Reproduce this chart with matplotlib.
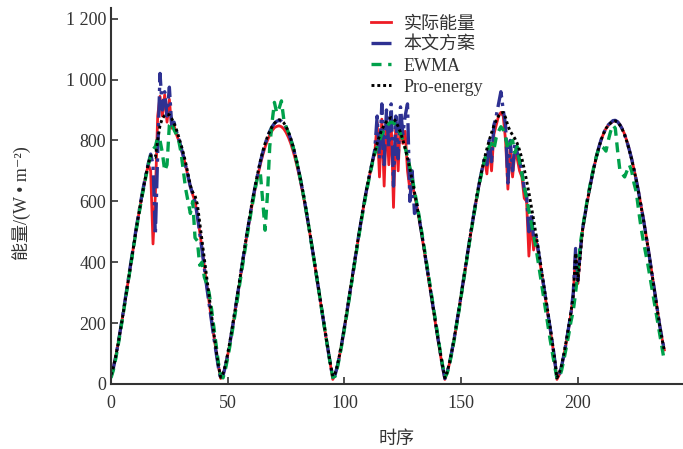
import numpy as np
import matplotlib
matplotlib.use('Agg')
import matplotlib.pyplot as plt

plt.rcParams['font.family'] = ['Liberation Serif', 'Noto Sans CJK SC', 'DejaVu Serif']

# 实际能量
actual = [
    30, 55, 90, 130, 175, 222, 270, 320, 370, 420, 470, 518, 563, 607, 648, 688, 720, 700, 460, 620, 880, 945, 880, 950,
    860, 935, 840, 850, 820, 800, 775, 748, 716, 682, 648, 622, 600, 555, 500, 445, 385, 325, 270, 215, 160, 110, 60, 18,
    30, 58, 95, 136, 182, 230, 280, 330, 380, 430, 478, 525, 570, 612, 651, 688, 722, 752, 778, 800, 818, 832, 842, 846,
    848, 845, 838, 826, 810, 790, 765, 737, 705, 670, 632, 592, 548, 502, 455, 405, 355, 305, 255, 205, 157, 110, 63, 15,
    32, 60, 97, 138, 184, 232, 282, 332, 382, 432, 481, 528, 574, 617, 657, 694, 729, 760, 860, 680, 870, 650, 880, 720,
    870, 580, 860, 700, 880, 790, 830, 700, 640, 660, 620, 585, 540, 494, 446, 396, 346, 296, 246, 196, 148, 100, 55, 15,
    38, 68, 105, 147, 193, 241, 291, 341, 391, 441, 490, 537, 583, 627, 667, 705, 740, 690, 780, 700, 820, 850, 880, 892,
    880, 800, 640, 780, 680, 760, 740, 700, 680, 610, 600, 420, 540, 440, 480, 430, 385, 335, 285, 235, 185, 135, 80, 15,
    30, 58, 95, 136, 182, 230, 290, 440, 330, 430, 505, 552, 598, 640, 680, 716, 749, 778, 803, 823, 839, 850, 857, 862,
    865, 861, 852, 838, 820, 797, 770, 740, 706, 670, 630, 588, 544, 498, 450, 400, 348, 296, 244, 194, 150, 112,
]

# 本文方案
proposed = [
    25, 52, 88, 130, 176, 224, 273, 323, 373, 423, 473, 521, 566, 610, 651, 690, 725, 755, 720, 490, 760, 1020, 900, 960,
    880, 975, 850, 860, 830, 805, 778, 748, 716, 682, 648, 625, 598, 552, 496, 440, 380, 320, 265, 210, 155, 105, 55, 15,
    28, 58, 96, 138, 184, 233, 283, 333, 383, 433, 482, 529, 575, 618, 658, 695, 730, 761, 788, 811, 830, 845, 856, 863,
    866, 863, 855, 842, 825, 804, 778, 748, 714, 678, 638, 596, 551, 504, 456, 406, 356, 306, 256, 206, 158, 110, 63, 22,
    30, 60, 98, 140, 186, 234, 284, 334, 384, 434, 483, 530, 576, 619, 659, 696, 731, 770, 880, 740, 920, 720, 900, 780,
    920, 650, 880, 740, 910, 820, 880, 920, 600, 700, 560, 590, 545, 498, 450, 400, 350, 300, 250, 200, 152, 104, 58, 18,
    40, 70, 108, 150, 196, 244, 294, 344, 394, 444, 493, 540, 586, 630, 670, 708, 745, 720, 800, 730, 850, 880, 920, 960,
    900, 850, 660, 800, 700, 790, 760, 730, 700, 640, 620, 500, 560, 480, 490, 440, 392, 342, 292, 242, 190, 138, 82, 18,
    28, 58, 96, 138, 184, 232, 300, 445, 340, 440, 510, 556, 601, 642, 681, 717, 750, 779, 804, 824, 840, 851, 858, 865,
    866, 861, 851, 837, 819, 796, 769, 739, 705, 669, 629, 587, 543, 497, 449, 399, 347, 295, 243, 193, 150, 112,
]

# EWMA
ewma = [
    20, 45, 82, 124, 170, 218, 267, 317, 367, 417, 466, 514, 559, 603, 644, 683, 720, 750, 770, 780, 810, 800, 760, 700,
    720, 850, 860, 835, 820, 800, 760, 700, 640, 600, 560, 600, 480, 470, 390, 400, 350, 330, 300, 250, 190, 130, 70, 25,
    20, 48, 86, 128, 174, 222, 272, 322, 372, 422, 471, 519, 565, 609, 650, 689, 690, 600, 505, 620, 780, 860, 925, 890,
    905, 930, 870, 845, 826, 804, 778, 748, 714, 678, 638, 596, 551, 504, 456, 406, 356, 306, 256, 206, 158, 110, 63, 22,
    25, 55, 93, 135, 181, 229, 279, 329, 379, 429, 478, 525, 571, 614, 654, 691, 726, 756, 780, 800, 820, 835, 845, 855,
    860, 858, 850, 838, 822, 802, 776, 746, 712, 676, 636, 594, 550, 504, 456, 406, 356, 306, 256, 206, 156, 108, 62, 22,
    35, 65, 103, 145, 191, 239, 289, 339, 389, 439, 488, 535, 581, 625, 665, 702, 736, 760, 780, 790, 770, 810, 830, 845,
    835, 810, 770, 790, 800, 760, 780, 730, 690, 650, 610, 570, 530, 490, 448, 400, 350, 300, 250, 200, 150, 105, 60, 20,
    20, 45, 80, 120, 160, 205, 240, 300, 370, 460, 510, 560, 605, 645, 685, 720, 750, 775, 780, 775, 765, 800, 830, 850,
    840, 765, 700, 690, 680, 700, 720, 700, 660, 630, 570, 515, 470, 430, 390, 345, 300, 255, 210, 165, 120, 75,
]

# Pro-energy
pro_energy = [
    30, 55, 90, 130, 175, 222, 270, 320, 370, 420, 470, 518, 563, 607, 648, 688, 724, 750, 748, 745, 800, 850, 872, 882,
    886, 884, 872, 856, 836, 812, 786, 758, 726, 690, 652, 630, 618, 590, 530, 470, 410, 350, 290, 230, 170, 115, 60, 22,
    35, 62, 100, 142, 188, 236, 286, 336, 386, 436, 485, 532, 578, 621, 661, 698, 733, 763, 790, 812, 830, 845, 856, 864,
    868, 866, 858, 845, 828, 806, 780, 750, 716, 680, 640, 598, 553, 506, 458, 408, 358, 308, 258, 208, 160, 112, 65, 25,
    35, 62, 100, 142, 188, 236, 286, 336, 386, 436, 485, 532, 578, 621, 661, 698, 733, 763, 790, 815, 835, 850, 862, 870,
    875, 872, 862, 846, 826, 802, 774, 742, 707, 670, 630, 588, 544, 498, 450, 400, 350, 300, 250, 200, 152, 105, 60, 20,
    40, 70, 108, 150, 196, 244, 294, 344, 394, 444, 493, 540, 586, 630, 670, 708, 742, 772, 800, 825, 848, 866, 880, 890,
    892, 875, 848, 830, 818, 806, 790, 768, 740, 706, 668, 628, 585, 540, 493, 445, 395, 345, 294, 243, 192, 140, 85, 20,
    35, 62, 100, 142, 188, 236, 290, 430, 340, 420, 509, 555, 600, 641, 680, 716, 749, 778, 803, 823, 839, 850, 857, 862,
    864, 860, 850, 836, 818, 795, 768, 738, 704, 668, 628, 586, 542, 496, 448, 398, 346, 294, 242, 192, 148, 110,
]

y_ticks = [0, 200, 400, 600, 800, 1000, 1200]
y_ticklabels = ['0', '200', '400', '600', '800', '1 000', '1 200']
x_ticks = [0, 50, 100, 150, 200]

fig = plt.figure(figsize=(6.83, 4.49), dpi=100)
ax = fig.add_axes([0.1625, 0.1448, 0.8375, 0.8374])

ax.plot(np.arange(len(actual)), actual, color='#ee1c25', lw=2.0, ls='-', label='实际能量')
ax.plot(np.arange(len(proposed)), proposed, color='#2e3192', lw=2.4, ls='-.', label='本文方案')
ax.plot(np.arange(len(ewma)), ewma, color='#00a14b', lw=2.4, ls=(0, (3, 2)), label='EWMA')
ax.plot(np.arange(len(pro_energy)), pro_energy, color='black', lw=2.1, ls=(0, (1, 1)), label='Pro-energy')

ax.set_xlim(0, 245)
ax.set_ylim(0, 1235)
ax.set_xticks(x_ticks)
ax.set_yticks(y_ticks)
ax.set_yticklabels(y_ticklabels)
ax.tick_params(direction='in', length=5, width=1.2, labelsize=13, colors='#333333')
ax.tick_params(axis='x', pad=8)
for s in ['top', 'right']:
    ax.spines[s].set_visible(False)
for s in ['left', 'bottom']:
    ax.spines[s].set_linewidth(1.5)
    ax.spines[s].set_color('#333333')

ax.set_xlabel('时序', fontsize=13, color='#333333')
ax.set_ylabel('能量/(W \u2022 m\u207b\u00b2)', fontsize=13, color='#333333')
ax.xaxis.set_label_coords(0.5, -0.125)
ax.yaxis.set_label_coords(-0.14, 0.48)

ax.legend(loc='upper left', bbox_to_anchor=(0.53, 0.985), bbox_transform=fig.transFigure,
          frameon=False, fontsize=13, handlelength=1.1, handletextpad=0.7,
          labelspacing=0.22, borderpad=0, labelcolor='#333333')

fig.savefig('out.png', dpi=100)
